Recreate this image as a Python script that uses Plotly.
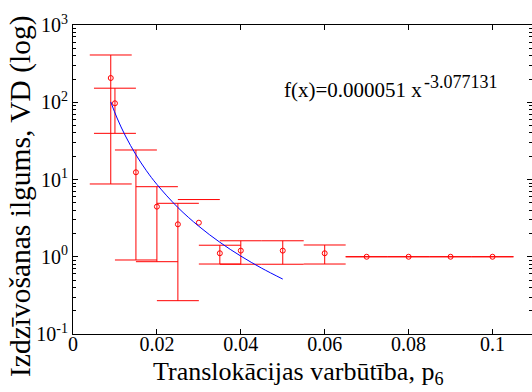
import plotly.graph_objects as go

# ---- data ----
x_vals = [0.009, 0.010, 0.015, 0.020, 0.025, 0.030, 0.035, 0.040, 0.050, 0.060, 0.070, 0.080, 0.090, 0.100]
y_vals = [206, 97, 12.4, 4.45, 2.63, 2.76, 1.11, 1.2, 1.2, 1.11, 1.0, 1.0, 1.0, 1.0]
y_upper = [409, 152, 24.1, 8.07, 4.92, 5.5, 1.41, 1.61, 1.61, 1.42, 1.0, 1.0, 1.0, 1.0]
y_lower = [8.75, 39.6, 0.908, 0.863, 0.27, None, 0.805, 0.80, 0.80, 0.805, 1.0, 1.0, 1.0, 1.0]

fit_x = [0.009, 0.0105, 0.0125, 0.015, 0.0175, 0.02, 0.025, 0.03, 0.035, 0.04, 0.045, 0.05]
fit_y = [101, 62.5, 36.6, 20.9, 13.0, 8.64, 4.34, 2.48, 1.54, 1.02, 0.71, 0.514]

y_tick_vals = [0.1, 1, 10, 100, 1000]
y_tick_text = ["10<sup>-1</sup>", "10<sup>0</sup>", "10<sup>1</sup>", "10<sup>2</sup>", "10<sup>3</sup>"]
x_tick_vals = [0, 0.02, 0.04, 0.06, 0.08, 0.1]
x_tick_text = ["0", "0.02", "0.04", "0.06", "0.08", "0.1"]

fit_label = "f(x)=0.000051 x"
fit_exponent = "-3.077131"
x_title = "Translokācijas varbūtība, p<sub>6</sub>"
y_title = "Izdzīvošanas ilgums, VD (log)"

CAP = 0.005  # half width of error-bar caps in x units

FONT = "Liberation Serif, Times New Roman, DejaVu Serif, serif"
RED = "#ff0000"

# build error bar segments (MATLAB style: no bar when lower bound is not positive)
ex, ey = [], []
for x, up, lo in zip(x_vals, y_upper, y_lower):
    if lo is not None:
        ex += [x, x, None]
        ey += [lo, up, None]
        ex += [x - CAP, x + CAP, None]
        ey += [lo, lo, None]
    ex += [x - CAP, x + CAP, None]
    ey += [up, up, None]

fig = go.Figure()
fig.add_trace(go.Scatter(x=ex, y=ey, mode="lines", line=dict(color=RED, width=1),
                         hoverinfo="skip", showlegend=False))
fig.add_trace(go.Scatter(x=x_vals, y=y_vals, mode="markers",
                         marker=dict(symbol="circle-open", size=5, color=RED, line=dict(width=1, color=RED)),
                         showlegend=False))
fig.add_trace(go.Scatter(x=fit_x, y=fit_y, mode="lines", line=dict(color="#0000ff", width=1, shape="spline"),
                         showlegend=False))

W, H = 532, 392
L, R, T, B = 73, 0, 25, 58
pw = W - L - R
ph = H - T - B

def px_x(p):
    return (p - L) / pw

def px_y(p):
    return (H - B - p) / ph

fig.update_layout(
    width=W, height=H,
    margin=dict(l=L, r=R, t=T, b=B, pad=0, autoexpand=False),
    paper_bgcolor="white", plot_bgcolor="white",
    font=dict(family=FONT, color="black", size=20),
    xaxis=dict(range=[0, pw / 4195.0], tickmode="array", tickvals=x_tick_vals, ticktext=x_tick_text,
               ticks="inside", ticklen=5, tickwidth=1, tickcolor="black", automargin=False,
               ticklabelstandoff=-8,
               showline=True, linecolor="black", linewidth=1, mirror="ticks",
               showgrid=False, zeroline=False, tickfont=dict(size=20, family=FONT)),
    yaxis=dict(type="log", range=[-1, 3], tickmode="array", tickvals=y_tick_vals, ticktext=y_tick_text,
               ticks="inside", ticklen=5, tickwidth=1, tickcolor="black", automargin=False,
               showline=True, linecolor="black", linewidth=1, mirror="ticks",
               showgrid=False, zeroline=False, tickfont=dict(size=20, family=FONT),
               minor=dict(ticks="inside", ticklen=3, tickcolor="black", tickwidth=1,
                          tickvals=[m * 10 ** k for k in range(-1, 3) for m in range(2, 10)])),
    annotations=[
        dict(text=fit_label, xref="paper", yref="paper", x=px_x(282), y=px_y(90),
             xanchor="left", yanchor="middle", showarrow=False, font=dict(size=21, family=FONT)),
        dict(text=fit_exponent, xref="paper", yref="paper", x=px_x(422), y=px_y(82),
             xanchor="left", yanchor="middle", showarrow=False, font=dict(size=18, family=FONT)),
        dict(text=x_title, xref="paper", yref="paper", x=px_x(298), y=px_y(373),
             xanchor="center", yanchor="middle", showarrow=False, font=dict(size=26, family=FONT)),
        dict(text=y_title, xref="paper", yref="paper", x=px_x(20), y=px_y(196), textangle=-90,
             xanchor="center", yanchor="middle", showarrow=False, font=dict(size=29.5, family=FONT)),
    ],
)

fig.write_html("out.html", config={"displayModeBar": False},
               post_script="document.body.style.margin='0';document.body.style.overflow='hidden';")
